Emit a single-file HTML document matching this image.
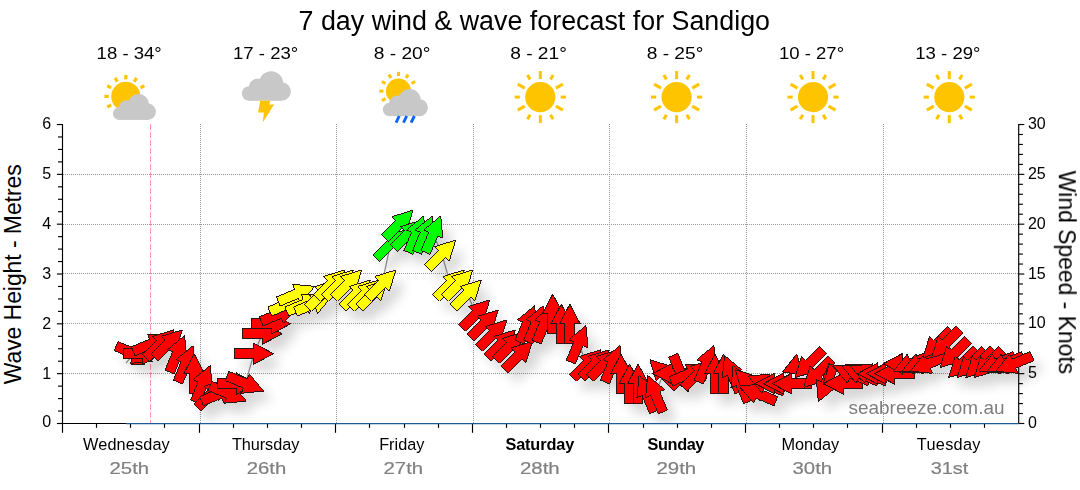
<!DOCTYPE html><html><head><meta charset="utf-8"><title>7 day wind &amp; wave forecast for Sandigo</title>
<style>html,body{margin:0;padding:0;background:#fff}body{width:1080px;height:490px;overflow:hidden;position:relative;font-family:"Liberation Sans",sans-serif}svg{position:absolute;left:0;top:0}text{font-family:"Liberation Sans",sans-serif}</style></head><body>
<svg width="1080" height="490" viewBox="0 0 1080 490">
<defs>
<filter id="sh" x="-5%" y="-20%" width="110%" height="150%"><feGaussianBlur stdDeviation="5.8"/></filter><clipPath id="pc"><rect x="62.5" y="124" width="1000" height="299"/></clipPath>
<path id="ar" d="M-19.8,-4.9 L0,-4.9 L0,-10.4 L19.6,0 L0,10.4 L0,4.9 L-19.8,4.9 Z"/>
<g id="cloud"><circle cx="29.2" cy="12" r="12"/><circle cx="15.8" cy="16.3" r="9"/><circle cx="7.3" cy="22.3" r="7.3"/><circle cx="39.7" cy="20.3" r="9.3"/><rect x="7.3" y="18" width="32.4" height="11.6"/></g>
</defs>
<g stroke="#979797" stroke-width="1" stroke-dasharray="1 1" fill="none" shape-rendering="crispEdges"><line x1="62.5" y1="373.50" x2="1018.7" y2="373.50"/><line x1="62.5" y1="323.50" x2="1018.7" y2="323.50"/><line x1="62.5" y1="273.50" x2="1018.7" y2="273.50"/><line x1="62.5" y1="224.50" x2="1018.7" y2="224.50"/><line x1="62.5" y1="174.50" x2="1018.7" y2="174.50"/><line x1="200.50" y1="124.0" x2="200.50" y2="423.5"/><line x1="336.50" y1="124.0" x2="336.50" y2="423.5"/><line x1="473.50" y1="124.0" x2="473.50" y2="423.5"/><line x1="609.50" y1="124.0" x2="609.50" y2="423.5"/><line x1="746.50" y1="124.0" x2="746.50" y2="423.5"/><line x1="883.50" y1="124.0" x2="883.50" y2="423.5"/></g>
<line x1="150.5" y1="124.0" x2="150.5" y2="423.5" stroke="#ff9aa2" stroke-width="1" stroke-dasharray="6 2" shape-rendering="crispEdges"/>
<polyline fill="none" stroke="#8c8c8c" stroke-width="1.2" points="125.9,363.2 134.4,353.7 142.9,353.7 151.5,343.7 160.0,343.7 168.5,343.7 177.1,353.7 185.6,363.7 194.2,373.6 202.7,383.6 211.2,393.6 219.8,393.6 228.3,393.6 236.8,383.6 245.4,383.6 253.9,353.7 262.5,333.8 271.0,323.8 279.5,313.8 288.1,303.9 296.6,293.9 305.1,303.9 313.7,303.9 322.2,293.9 330.8,283.9 339.3,283.9 347.8,283.9 356.4,293.9 364.9,293.9 373.4,293.9 382.0,283.9 390.5,244.0 399.1,224.1 407.6,234.1 416.1,234.1 424.7,234.1 433.2,234.1 441.8,254.0 450.3,283.9 458.8,283.9 467.4,293.9 475.9,313.8 484.4,323.8 493.0,333.8 501.5,343.7 510.0,345.7 518.6,355.2 527.1,323.8 535.7,323.8 544.2,323.8 552.7,313.8 561.3,323.8 569.8,323.8 578.4,343.7 586.9,363.7 595.4,363.7 604.0,363.7 612.5,363.7 621.0,373.6 629.6,383.6 638.1,383.6 646.6,393.6 655.2,393.6 663.7,373.6 672.3,373.6 680.8,373.6 689.3,373.6 697.9,373.6 706.4,363.7 715.0,373.6 723.5,373.6 732.0,373.6 740.6,383.6 749.1,383.6 757.6,393.6 766.2,383.6 774.7,383.6 783.2,383.6 791.8,383.6 808.9,363.7 817.4,373.6 825.9,383.6 843.0,383.6 851.5,373.6 860.1,373.6 868.6,373.6 877.2,373.6 885.7,373.6 894.2,373.6 902.8,363.7 911.3,363.7 919.9,363.7 928.4,363.7 936.9,343.7 945.5,343.7 954.0,353.7 962.5,363.7 971.1,363.7 979.6,363.7 988.1,363.7 996.7,363.7 1005.2,363.7 1013.8,363.7"/>
<g stroke="#000" stroke-width="1.15" fill="none"><line x1="62.5" y1="124.0" x2="62.5" y2="424.0"/><line x1="1018.7" y1="124.0" x2="1018.7" y2="424.0"/><line x1="62.5" y1="423.5" x2="127" y2="423.5"/><line x1="56.9" y1="423.50" x2="62.5" y2="423.50"/><line x1="58.0" y1="411.04" x2="62.5" y2="411.04"/><line x1="58.0" y1="398.58" x2="62.5" y2="398.58"/><line x1="58.0" y1="386.13" x2="62.5" y2="386.13"/><line x1="56.9" y1="373.67" x2="62.5" y2="373.67"/><line x1="58.0" y1="361.21" x2="62.5" y2="361.21"/><line x1="58.0" y1="348.75" x2="62.5" y2="348.75"/><line x1="58.0" y1="336.30" x2="62.5" y2="336.30"/><line x1="56.9" y1="323.84" x2="62.5" y2="323.84"/><line x1="58.0" y1="311.38" x2="62.5" y2="311.38"/><line x1="58.0" y1="298.93" x2="62.5" y2="298.93"/><line x1="58.0" y1="286.47" x2="62.5" y2="286.47"/><line x1="56.9" y1="274.01" x2="62.5" y2="274.01"/><line x1="58.0" y1="261.55" x2="62.5" y2="261.55"/><line x1="58.0" y1="249.09" x2="62.5" y2="249.09"/><line x1="58.0" y1="236.64" x2="62.5" y2="236.64"/><line x1="56.9" y1="224.18" x2="62.5" y2="224.18"/><line x1="58.0" y1="211.72" x2="62.5" y2="211.72"/><line x1="58.0" y1="199.27" x2="62.5" y2="199.27"/><line x1="58.0" y1="186.81" x2="62.5" y2="186.81"/><line x1="56.9" y1="174.35" x2="62.5" y2="174.35"/><line x1="58.0" y1="161.89" x2="62.5" y2="161.89"/><line x1="58.0" y1="149.44" x2="62.5" y2="149.44"/><line x1="58.0" y1="136.98" x2="62.5" y2="136.98"/><line x1="56.9" y1="124.52" x2="62.5" y2="124.52"/><line x1="1018.7" y1="423.50" x2="1024.3" y2="423.50"/><line x1="1018.7" y1="413.53" x2="1022.9000000000001" y2="413.53"/><line x1="1018.7" y1="403.57" x2="1022.9000000000001" y2="403.57"/><line x1="1018.7" y1="393.60" x2="1022.9000000000001" y2="393.60"/><line x1="1018.7" y1="383.64" x2="1022.9000000000001" y2="383.64"/><line x1="1018.7" y1="373.67" x2="1024.3" y2="373.67"/><line x1="1018.7" y1="363.70" x2="1022.9000000000001" y2="363.70"/><line x1="1018.7" y1="353.74" x2="1022.9000000000001" y2="353.74"/><line x1="1018.7" y1="343.77" x2="1022.9000000000001" y2="343.77"/><line x1="1018.7" y1="333.81" x2="1022.9000000000001" y2="333.81"/><line x1="1018.7" y1="323.84" x2="1024.3" y2="323.84"/><line x1="1018.7" y1="313.87" x2="1022.9000000000001" y2="313.87"/><line x1="1018.7" y1="303.91" x2="1022.9000000000001" y2="303.91"/><line x1="1018.7" y1="293.94" x2="1022.9000000000001" y2="293.94"/><line x1="1018.7" y1="283.98" x2="1022.9000000000001" y2="283.98"/><line x1="1018.7" y1="274.01" x2="1024.3" y2="274.01"/><line x1="1018.7" y1="264.04" x2="1022.9000000000001" y2="264.04"/><line x1="1018.7" y1="254.08" x2="1022.9000000000001" y2="254.08"/><line x1="1018.7" y1="244.11" x2="1022.9000000000001" y2="244.11"/><line x1="1018.7" y1="234.15" x2="1022.9000000000001" y2="234.15"/><line x1="1018.7" y1="224.18" x2="1024.3" y2="224.18"/><line x1="1018.7" y1="214.21" x2="1022.9000000000001" y2="214.21"/><line x1="1018.7" y1="204.25" x2="1022.9000000000001" y2="204.25"/><line x1="1018.7" y1="194.28" x2="1022.9000000000001" y2="194.28"/><line x1="1018.7" y1="184.32" x2="1022.9000000000001" y2="184.32"/><line x1="1018.7" y1="174.35" x2="1024.3" y2="174.35"/><line x1="1018.7" y1="164.38" x2="1022.9000000000001" y2="164.38"/><line x1="1018.7" y1="154.42" x2="1022.9000000000001" y2="154.42"/><line x1="1018.7" y1="144.45" x2="1022.9000000000001" y2="144.45"/><line x1="1018.7" y1="134.49" x2="1022.9000000000001" y2="134.49"/><line x1="1018.7" y1="124.52" x2="1024.3" y2="124.52"/><line x1="62.50" y1="423.5" x2="62.50" y2="432.8"/><line x1="96.50" y1="423.5" x2="96.50" y2="427.8"/><line x1="130.50" y1="423.5" x2="130.50" y2="427.8"/><line x1="164.50" y1="423.5" x2="164.50" y2="427.8"/><line x1="199.50" y1="423.5" x2="199.50" y2="432.8"/><line x1="233.50" y1="423.5" x2="233.50" y2="427.8"/><line x1="267.50" y1="423.5" x2="267.50" y2="427.8"/><line x1="301.50" y1="423.5" x2="301.50" y2="427.8"/><line x1="335.50" y1="423.5" x2="335.50" y2="432.8"/><line x1="369.50" y1="423.5" x2="369.50" y2="427.8"/><line x1="404.50" y1="423.5" x2="404.50" y2="427.8"/><line x1="438.50" y1="423.5" x2="438.50" y2="427.8"/><line x1="472.50" y1="423.5" x2="472.50" y2="432.8"/><line x1="506.50" y1="423.5" x2="506.50" y2="427.8"/><line x1="540.50" y1="423.5" x2="540.50" y2="427.8"/><line x1="574.50" y1="423.5" x2="574.50" y2="427.8"/><line x1="608.50" y1="423.5" x2="608.50" y2="432.8"/><line x1="643.50" y1="423.5" x2="643.50" y2="427.8"/><line x1="677.50" y1="423.5" x2="677.50" y2="427.8"/><line x1="711.50" y1="423.5" x2="711.50" y2="427.8"/><line x1="745.50" y1="423.5" x2="745.50" y2="432.8"/><line x1="779.50" y1="423.5" x2="779.50" y2="427.8"/><line x1="813.50" y1="423.5" x2="813.50" y2="427.8"/><line x1="847.50" y1="423.5" x2="847.50" y2="427.8"/><line x1="882.50" y1="423.5" x2="882.50" y2="432.8"/><line x1="916.50" y1="423.5" x2="916.50" y2="427.8"/><line x1="950.50" y1="423.5" x2="950.50" y2="427.8"/><line x1="984.50" y1="423.5" x2="984.50" y2="427.8"/></g>
<line x1="126" y1="423.6" x2="1018.7" y2="423.6" stroke="#1e5b96" stroke-width="1.25"/>
<g clip-path="url(#pc)"><g filter="url(#sh)" opacity="0.165" fill="#000" transform="translate(8.5,10)">
<polygon points="132,358.7 144,358.7 144,364 131.2,364"/>
<use href="#ar" transform="translate(134.4,353.7) rotate(22.5)"/>
<use href="#ar" transform="translate(142.9,353.7) rotate(-0.0)"/>
<use href="#ar" transform="translate(151.5,343.7) rotate(-22.5)"/>
<use href="#ar" transform="translate(160.0,343.7) rotate(-45.0)"/>
<use href="#ar" transform="translate(168.5,343.7) rotate(-45.0)"/>
<use href="#ar" transform="translate(177.1,353.7) rotate(-67.5)"/>
<use href="#ar" transform="translate(185.6,363.7) rotate(-67.5)"/>
<use href="#ar" transform="translate(194.2,373.6) rotate(-90.0)"/>
<use href="#ar" transform="translate(202.7,383.6) rotate(-67.5)"/>
<use href="#ar" transform="translate(211.2,393.6) rotate(-45.0)"/>
<use href="#ar" transform="translate(219.8,393.6) rotate(-22.5)"/>
<use href="#ar" transform="translate(228.3,393.6) rotate(22.5)"/>
<use href="#ar" transform="translate(236.8,383.6) rotate(-0.0)"/>
<use href="#ar" transform="translate(245.4,383.6) rotate(22.5)"/>
<use href="#ar" transform="translate(253.9,353.7) rotate(-0.0)"/>
<use href="#ar" transform="translate(262.5,333.8) rotate(-0.0)"/>
<use href="#ar" transform="translate(271.0,323.8) rotate(-0.0)"/>
<use href="#ar" transform="translate(279.5,313.8) rotate(-22.5)"/>
<use href="#ar" transform="translate(288.1,303.9) rotate(-22.5)"/>
<use href="#ar" transform="translate(296.6,293.9) rotate(-22.5)"/>
<use href="#ar" transform="translate(305.1,303.9) rotate(-22.5)"/>
<use href="#ar" transform="translate(313.7,303.9) rotate(-22.5)"/>
<use href="#ar" transform="translate(322.2,293.9) rotate(-45.0)"/>
<use href="#ar" transform="translate(330.8,283.9) rotate(-45.0)"/>
<use href="#ar" transform="translate(339.3,283.9) rotate(-45.0)"/>
<use href="#ar" transform="translate(347.8,283.9) rotate(-45.0)"/>
<use href="#ar" transform="translate(356.4,293.9) rotate(-45.0)"/>
<use href="#ar" transform="translate(364.9,293.9) rotate(-45.0)"/>
<use href="#ar" transform="translate(373.4,293.9) rotate(-45.0)"/>
<use href="#ar" transform="translate(382.0,283.9) rotate(-45.0)"/>
<use href="#ar" transform="translate(390.5,244.0) rotate(-45.0)"/>
<use href="#ar" transform="translate(399.1,224.1) rotate(-45.0)"/>
<use href="#ar" transform="translate(407.6,234.1) rotate(-45.0)"/>
<use href="#ar" transform="translate(416.1,234.1) rotate(-67.5)"/>
<use href="#ar" transform="translate(424.7,234.1) rotate(-67.5)"/>
<use href="#ar" transform="translate(433.2,234.1) rotate(-67.5)"/>
<use href="#ar" transform="translate(441.8,254.0) rotate(-45.0)"/>
<use href="#ar" transform="translate(450.3,283.9) rotate(-45.0)"/>
<use href="#ar" transform="translate(458.8,283.9) rotate(-45.0)"/>
<use href="#ar" transform="translate(467.4,293.9) rotate(-45.0)"/>
<use href="#ar" transform="translate(475.9,313.8) rotate(-45.0)"/>
<use href="#ar" transform="translate(484.4,323.8) rotate(-45.0)"/>
<use href="#ar" transform="translate(493.0,333.8) rotate(-45.0)"/>
<use href="#ar" transform="translate(501.5,343.7) rotate(-45.0)"/>
<use href="#ar" transform="translate(510.0,345.7) rotate(-45.0)"/>
<use href="#ar" transform="translate(518.6,355.2) rotate(-45.0)"/>
<use href="#ar" transform="translate(527.1,323.8) rotate(-67.5)"/>
<use href="#ar" transform="translate(535.7,323.8) rotate(-67.5)"/>
<use href="#ar" transform="translate(544.2,323.8) rotate(-67.5)"/>
<use href="#ar" transform="translate(552.7,313.8) rotate(-90.0)"/>
<use href="#ar" transform="translate(561.3,323.8) rotate(-90.0)"/>
<use href="#ar" transform="translate(569.8,323.8) rotate(-90.0)"/>
<use href="#ar" transform="translate(578.4,343.7) rotate(-67.5)"/>
<use href="#ar" transform="translate(586.9,363.7) rotate(-45.0)"/>
<use href="#ar" transform="translate(595.4,363.7) rotate(-45.0)"/>
<use href="#ar" transform="translate(604.0,363.7) rotate(-45.0)"/>
<use href="#ar" transform="translate(612.5,363.7) rotate(-67.5)"/>
<use href="#ar" transform="translate(621.0,373.6) rotate(-90.0)"/>
<use href="#ar" transform="translate(629.6,383.6) rotate(-90.0)"/>
<use href="#ar" transform="translate(638.1,383.6) rotate(-90.0)"/>
<use href="#ar" transform="translate(646.6,393.6) rotate(-112.5)"/>
<use href="#ar" transform="translate(655.2,393.6) rotate(-112.5)"/>
<use href="#ar" transform="translate(663.7,373.6) rotate(-135.0)"/>
<use href="#ar" transform="translate(672.3,373.6) rotate(-180.0)"/>
<use href="#ar" transform="translate(680.8,373.6) rotate(67.5)"/>
<use href="#ar" transform="translate(689.3,373.6) rotate(-22.5)"/>
<use href="#ar" transform="translate(697.9,373.6) rotate(-45.0)"/>
<use href="#ar" transform="translate(706.4,363.7) rotate(-67.5)"/>
<use href="#ar" transform="translate(715.0,373.6) rotate(-90.0)"/>
<use href="#ar" transform="translate(723.5,373.6) rotate(-90.0)"/>
<use href="#ar" transform="translate(732.0,373.6) rotate(-112.5)"/>
<use href="#ar" transform="translate(740.6,383.6) rotate(-112.5)"/>
<use href="#ar" transform="translate(749.1,383.6) rotate(-135.0)"/>
<use href="#ar" transform="translate(757.6,393.6) rotate(-157.5)"/>
<use href="#ar" transform="translate(766.2,383.6) rotate(-157.5)"/>
<use href="#ar" transform="translate(774.7,383.6) rotate(-180.0)"/>
<use href="#ar" transform="translate(783.2,383.6) rotate(-180.0)"/>
<use href="#ar" transform="translate(791.8,383.6) rotate(-180.0)"/>
<polygon points="782.6,371.7 796.8,354.1 803.2,375.6"/>
<use href="#ar" transform="translate(808.9,363.7) rotate(-225.0)"/>
<use href="#ar" transform="translate(817.4,373.6) rotate(-225.0)"/>
<use href="#ar" transform="translate(825.9,383.6) rotate(-247.5)"/>
<polygon points="829.5,363.4 836.5,369.9 834.4,377.6 823,384.5"/>
<use href="#ar" transform="translate(843.0,383.6) rotate(-180.0)"/>
<use href="#ar" transform="translate(851.5,373.6) rotate(-157.5)"/>
<use href="#ar" transform="translate(860.1,373.6) rotate(-157.5)"/>
<use href="#ar" transform="translate(868.6,373.6) rotate(-157.5)"/>
<use href="#ar" transform="translate(877.2,373.6) rotate(-180.0)"/>
<use href="#ar" transform="translate(885.7,373.6) rotate(-180.0)"/>
<use href="#ar" transform="translate(894.2,373.6) rotate(-180.0)"/>
<use href="#ar" transform="translate(902.8,363.7) rotate(-180.0)"/>
<use href="#ar" transform="translate(911.3,363.7) rotate(-202.5)"/>
<use href="#ar" transform="translate(919.9,363.7) rotate(-202.5)"/>
<use href="#ar" transform="translate(928.4,363.7) rotate(-202.5)"/>
<use href="#ar" transform="translate(936.9,343.7) rotate(-225.0)"/>
<use href="#ar" transform="translate(945.5,343.7) rotate(-225.0)"/>
<use href="#ar" transform="translate(954.0,353.7) rotate(-225.0)"/>
<use href="#ar" transform="translate(962.5,363.7) rotate(-225.0)"/>
<use href="#ar" transform="translate(971.1,363.7) rotate(-225.0)"/>
<use href="#ar" transform="translate(979.6,363.7) rotate(-225.0)"/>
<use href="#ar" transform="translate(988.1,363.7) rotate(-225.0)"/>
<use href="#ar" transform="translate(996.7,363.7) rotate(-202.5)"/>
<use href="#ar" transform="translate(1005.2,363.7) rotate(-202.5)"/>
<use href="#ar" transform="translate(1013.8,363.7) rotate(-202.5)"/>
</g></g>
<g stroke="#2a1414" stroke-width="1" stroke-linejoin="miter" stroke-miterlimit="2" shape-rendering="crispEdges">
<polygon fill="#ff0000" points="132,358.7 144,358.7 144,364 131.2,364"/>
<use href="#ar" fill="#ff0000" transform="translate(134.4,353.7) rotate(22.5)"/>
<use href="#ar" fill="#ff0000" transform="translate(142.9,353.7) rotate(-0.0)"/>
<use href="#ar" fill="#ff0000" transform="translate(151.5,343.7) rotate(-22.5)"/>
<use href="#ar" fill="#ff0000" transform="translate(160.0,343.7) rotate(-45.0)"/>
<use href="#ar" fill="#ff0000" transform="translate(168.5,343.7) rotate(-45.0)"/>
<use href="#ar" fill="#ff0000" transform="translate(177.1,353.7) rotate(-67.5)"/>
<use href="#ar" fill="#ff0000" transform="translate(185.6,363.7) rotate(-67.5)"/>
<use href="#ar" fill="#ff0000" transform="translate(194.2,373.6) rotate(-90.0)"/>
<use href="#ar" fill="#ff0000" transform="translate(202.7,383.6) rotate(-67.5)"/>
<use href="#ar" fill="#ff0000" transform="translate(211.2,393.6) rotate(-45.0)"/>
<use href="#ar" fill="#ff0000" transform="translate(219.8,393.6) rotate(-22.5)"/>
<use href="#ar" fill="#ff0000" transform="translate(228.3,393.6) rotate(22.5)"/>
<use href="#ar" fill="#ff0000" transform="translate(236.8,383.6) rotate(-0.0)"/>
<use href="#ar" fill="#ff0000" transform="translate(245.4,383.6) rotate(22.5)"/>
<use href="#ar" fill="#ff0000" transform="translate(253.9,353.7) rotate(-0.0)"/>
<use href="#ar" fill="#ff0000" transform="translate(262.5,333.8) rotate(-0.0)"/>
<use href="#ar" fill="#ff0000" transform="translate(271.0,323.8) rotate(-0.0)"/>
<use href="#ar" fill="#ff0000" transform="translate(279.5,313.8) rotate(-22.5)"/>
<use href="#ar" fill="#ffff00" transform="translate(288.1,303.9) rotate(-22.5)"/>
<use href="#ar" fill="#ffff00" transform="translate(296.6,293.9) rotate(-22.5)"/>
<use href="#ar" fill="#ffff00" transform="translate(305.1,303.9) rotate(-22.5)"/>
<use href="#ar" fill="#ffff00" transform="translate(313.7,303.9) rotate(-22.5)"/>
<use href="#ar" fill="#ffff00" transform="translate(322.2,293.9) rotate(-45.0)"/>
<use href="#ar" fill="#ffff00" transform="translate(330.8,283.9) rotate(-45.0)"/>
<use href="#ar" fill="#ffff00" transform="translate(339.3,283.9) rotate(-45.0)"/>
<use href="#ar" fill="#ffff00" transform="translate(347.8,283.9) rotate(-45.0)"/>
<use href="#ar" fill="#ffff00" transform="translate(356.4,293.9) rotate(-45.0)"/>
<use href="#ar" fill="#ffff00" transform="translate(364.9,293.9) rotate(-45.0)"/>
<use href="#ar" fill="#ffff00" transform="translate(373.4,293.9) rotate(-45.0)"/>
<use href="#ar" fill="#ffff00" transform="translate(382.0,283.9) rotate(-45.0)"/>
<use href="#ar" fill="#00ff00" transform="translate(390.5,244.0) rotate(-45.0)"/>
<use href="#ar" fill="#00ff00" transform="translate(399.1,224.1) rotate(-45.0)"/>
<use href="#ar" fill="#00ff00" transform="translate(407.6,234.1) rotate(-45.0)"/>
<use href="#ar" fill="#00ff00" transform="translate(416.1,234.1) rotate(-67.5)"/>
<use href="#ar" fill="#00ff00" transform="translate(424.7,234.1) rotate(-67.5)"/>
<use href="#ar" fill="#00ff00" transform="translate(433.2,234.1) rotate(-67.5)"/>
<use href="#ar" fill="#ffff00" transform="translate(441.8,254.0) rotate(-45.0)"/>
<use href="#ar" fill="#ffff00" transform="translate(450.3,283.9) rotate(-45.0)"/>
<use href="#ar" fill="#ffff00" transform="translate(458.8,283.9) rotate(-45.0)"/>
<use href="#ar" fill="#ffff00" transform="translate(467.4,293.9) rotate(-45.0)"/>
<use href="#ar" fill="#ff0000" transform="translate(475.9,313.8) rotate(-45.0)"/>
<use href="#ar" fill="#ff0000" transform="translate(484.4,323.8) rotate(-45.0)"/>
<use href="#ar" fill="#ff0000" transform="translate(493.0,333.8) rotate(-45.0)"/>
<use href="#ar" fill="#ff0000" transform="translate(501.5,343.7) rotate(-45.0)"/>
<use href="#ar" fill="#ff0000" transform="translate(510.0,345.7) rotate(-45.0)"/>
<use href="#ar" fill="#ff0000" transform="translate(518.6,355.2) rotate(-45.0)"/>
<use href="#ar" fill="#ff0000" transform="translate(527.1,323.8) rotate(-67.5)"/>
<use href="#ar" fill="#ff0000" transform="translate(535.7,323.8) rotate(-67.5)"/>
<use href="#ar" fill="#ff0000" transform="translate(544.2,323.8) rotate(-67.5)"/>
<use href="#ar" fill="#ff0000" transform="translate(552.7,313.8) rotate(-90.0)"/>
<use href="#ar" fill="#ff0000" transform="translate(561.3,323.8) rotate(-90.0)"/>
<use href="#ar" fill="#ff0000" transform="translate(569.8,323.8) rotate(-90.0)"/>
<use href="#ar" fill="#ff0000" transform="translate(578.4,343.7) rotate(-67.5)"/>
<use href="#ar" fill="#ff0000" transform="translate(586.9,363.7) rotate(-45.0)"/>
<use href="#ar" fill="#ff0000" transform="translate(595.4,363.7) rotate(-45.0)"/>
<use href="#ar" fill="#ff0000" transform="translate(604.0,363.7) rotate(-45.0)"/>
<use href="#ar" fill="#ff0000" transform="translate(612.5,363.7) rotate(-67.5)"/>
<use href="#ar" fill="#ff0000" transform="translate(621.0,373.6) rotate(-90.0)"/>
<use href="#ar" fill="#ff0000" transform="translate(629.6,383.6) rotate(-90.0)"/>
<use href="#ar" fill="#ff0000" transform="translate(638.1,383.6) rotate(-90.0)"/>
<use href="#ar" fill="#ff0000" transform="translate(646.6,393.6) rotate(-112.5)"/>
<use href="#ar" fill="#ff0000" transform="translate(655.2,393.6) rotate(-112.5)"/>
<use href="#ar" fill="#ff0000" transform="translate(663.7,373.6) rotate(-135.0)"/>
<use href="#ar" fill="#ff0000" transform="translate(672.3,373.6) rotate(-180.0)"/>
<use href="#ar" fill="#ff0000" transform="translate(680.8,373.6) rotate(67.5)"/>
<use href="#ar" fill="#ff0000" transform="translate(689.3,373.6) rotate(-22.5)"/>
<use href="#ar" fill="#ff0000" transform="translate(697.9,373.6) rotate(-45.0)"/>
<use href="#ar" fill="#ff0000" transform="translate(706.4,363.7) rotate(-67.5)"/>
<use href="#ar" fill="#ff0000" transform="translate(715.0,373.6) rotate(-90.0)"/>
<use href="#ar" fill="#ff0000" transform="translate(723.5,373.6) rotate(-90.0)"/>
<use href="#ar" fill="#ff0000" transform="translate(732.0,373.6) rotate(-112.5)"/>
<use href="#ar" fill="#ff0000" transform="translate(740.6,383.6) rotate(-112.5)"/>
<use href="#ar" fill="#ff0000" transform="translate(749.1,383.6) rotate(-135.0)"/>
<use href="#ar" fill="#ff0000" transform="translate(757.6,393.6) rotate(-157.5)"/>
<use href="#ar" fill="#ff0000" transform="translate(766.2,383.6) rotate(-157.5)"/>
<use href="#ar" fill="#ff0000" transform="translate(774.7,383.6) rotate(-180.0)"/>
<use href="#ar" fill="#ff0000" transform="translate(783.2,383.6) rotate(-180.0)"/>
<use href="#ar" fill="#ff0000" transform="translate(791.8,383.6) rotate(-180.0)"/>
<polygon fill="#ff0000" points="782.6,371.7 796.8,354.1 803.2,375.6"/>
<use href="#ar" fill="#ff0000" transform="translate(808.9,363.7) rotate(-225.0)"/>
<use href="#ar" fill="#ff0000" transform="translate(817.4,373.6) rotate(-225.0)"/>
<use href="#ar" fill="#ff0000" transform="translate(825.9,383.6) rotate(-247.5)"/>
<polygon fill="#ff0000" points="829.5,363.4 836.5,369.9 834.4,377.6 823,384.5"/>
<use href="#ar" fill="#ff0000" transform="translate(843.0,383.6) rotate(-180.0)"/>
<use href="#ar" fill="#ff0000" transform="translate(851.5,373.6) rotate(-157.5)"/>
<use href="#ar" fill="#ff0000" transform="translate(860.1,373.6) rotate(-157.5)"/>
<use href="#ar" fill="#ff0000" transform="translate(868.6,373.6) rotate(-157.5)"/>
<use href="#ar" fill="#ff0000" transform="translate(877.2,373.6) rotate(-180.0)"/>
<use href="#ar" fill="#ff0000" transform="translate(885.7,373.6) rotate(-180.0)"/>
<use href="#ar" fill="#ff0000" transform="translate(894.2,373.6) rotate(-180.0)"/>
<use href="#ar" fill="#ff0000" transform="translate(902.8,363.7) rotate(-180.0)"/>
<use href="#ar" fill="#ff0000" transform="translate(911.3,363.7) rotate(-202.5)"/>
<use href="#ar" fill="#ff0000" transform="translate(919.9,363.7) rotate(-202.5)"/>
<use href="#ar" fill="#ff0000" transform="translate(928.4,363.7) rotate(-202.5)"/>
<use href="#ar" fill="#ff0000" transform="translate(936.9,343.7) rotate(-225.0)"/>
<use href="#ar" fill="#ff0000" transform="translate(945.5,343.7) rotate(-225.0)"/>
<use href="#ar" fill="#ff0000" transform="translate(954.0,353.7) rotate(-225.0)"/>
<use href="#ar" fill="#ff0000" transform="translate(962.5,363.7) rotate(-225.0)"/>
<use href="#ar" fill="#ff0000" transform="translate(971.1,363.7) rotate(-225.0)"/>
<use href="#ar" fill="#ff0000" transform="translate(979.6,363.7) rotate(-225.0)"/>
<use href="#ar" fill="#ff0000" transform="translate(988.1,363.7) rotate(-225.0)"/>
<use href="#ar" fill="#ff0000" transform="translate(996.7,363.7) rotate(-202.5)"/>
<use href="#ar" fill="#ff0000" transform="translate(1005.2,363.7) rotate(-202.5)"/>
<use href="#ar" fill="#ff0000" transform="translate(1013.8,363.7) rotate(-202.5)"/>
</g>
<text x="51.2" y="427.2" font-size="16" text-anchor="end" fill="#000">0</text>
<text x="51.2" y="378.6" font-size="16" text-anchor="end" fill="#000">1</text>
<text x="51.2" y="328.7" font-size="16" text-anchor="end" fill="#000">2</text>
<text x="51.2" y="278.9" font-size="16" text-anchor="end" fill="#000">3</text>
<text x="51.2" y="229.1" font-size="16" text-anchor="end" fill="#000">4</text>
<text x="51.2" y="179.3" font-size="16" text-anchor="end" fill="#000">5</text>
<text x="51.2" y="129.4" font-size="16" text-anchor="end" fill="#000">6</text>
<text x="1027.9" y="427.6" font-size="16" fill="#000">0</text>
<text x="1027.9" y="378.2" font-size="16" fill="#000">5</text>
<text x="1027.9" y="328.3" font-size="16" fill="#000">10</text>
<text x="1027.9" y="278.5" font-size="16" fill="#000">15</text>
<text x="1027.9" y="228.7" font-size="16" fill="#000">20</text>
<text x="1027.9" y="178.9" font-size="16" fill="#000">25</text>
<text x="1027.9" y="129.0" font-size="16" fill="#000">30</text>
<text x="126.4" y="450" font-size="16.3" text-anchor="middle" fill="#000" textLength="86.7" lengthAdjust="spacing">Wednesday</text>
<text x="129.3" y="474" font-size="17.2" text-anchor="middle" fill="#808080" stroke="#808080" stroke-width="0.2" textLength="39.6" lengthAdjust="spacingAndGlyphs">25th</text>
<text x="265.6" y="450" font-size="16.3" text-anchor="middle" fill="#000" textLength="67.4" lengthAdjust="spacing">Thursday</text>
<text x="266.5" y="474" font-size="17.2" text-anchor="middle" fill="#808080" stroke="#808080" stroke-width="0.2" textLength="39.6" lengthAdjust="spacingAndGlyphs">26th</text>
<text x="401.8" y="450" font-size="16.3" text-anchor="middle" fill="#000" textLength="45.3" lengthAdjust="spacing">Friday</text>
<text x="403.3" y="474" font-size="17.2" text-anchor="middle" fill="#808080" stroke="#808080" stroke-width="0.2" textLength="39.6" lengthAdjust="spacingAndGlyphs">27th</text>
<text x="539.8" y="450" font-size="16.3" text-anchor="middle" font-weight="bold" fill="#000" textLength="68.8" lengthAdjust="spacing">Saturday</text>
<text x="539.8" y="474" font-size="17.2" text-anchor="middle" fill="#808080" stroke="#808080" stroke-width="0.2" textLength="39.8" lengthAdjust="spacingAndGlyphs">28th</text>
<text x="676.0" y="450" font-size="16.3" text-anchor="middle" font-weight="bold" fill="#000" textLength="56.8" lengthAdjust="spacing">Sunday</text>
<text x="676.3" y="474" font-size="17.2" text-anchor="middle" fill="#808080" stroke="#808080" stroke-width="0.2" textLength="39.8" lengthAdjust="spacingAndGlyphs">29th</text>
<text x="810.4" y="450" font-size="16.3" text-anchor="middle" fill="#000" textLength="57.7" lengthAdjust="spacing">Monday</text>
<text x="812.3" y="474" font-size="17.2" text-anchor="middle" fill="#808080" stroke="#808080" stroke-width="0.2" textLength="39.6" lengthAdjust="spacingAndGlyphs">30th</text>
<text x="948.6" y="450" font-size="16.3" text-anchor="middle" fill="#000" textLength="63.5" lengthAdjust="spacing">Tuesday</text>
<text x="949.5" y="474" font-size="17.2" text-anchor="middle" fill="#808080" stroke="#808080" stroke-width="0.2" textLength="37.6" lengthAdjust="spacingAndGlyphs">31st</text>
<text x="129.2" y="58.6" font-size="16.8" text-anchor="middle" fill="#000" textLength="65.2" lengthAdjust="spacingAndGlyphs">18 - 34°</text>
<text x="265.6" y="58.6" font-size="16.8" text-anchor="middle" fill="#000" textLength="65.2" lengthAdjust="spacingAndGlyphs">17 - 23°</text>
<text x="402.1" y="58.6" font-size="16.8" text-anchor="middle" fill="#000" textLength="56.7" lengthAdjust="spacingAndGlyphs">8 - 20°</text>
<text x="538.5" y="58.6" font-size="16.8" text-anchor="middle" fill="#000" textLength="56.7" lengthAdjust="spacingAndGlyphs">8 - 21°</text>
<text x="675.0" y="58.6" font-size="16.8" text-anchor="middle" fill="#000" textLength="56.7" lengthAdjust="spacingAndGlyphs">8 - 25°</text>
<text x="811.5" y="58.6" font-size="16.8" text-anchor="middle" fill="#000" textLength="65.2" lengthAdjust="spacingAndGlyphs">10 - 27°</text>
<text x="947.9" y="58.6" font-size="16.8" text-anchor="middle" fill="#000" textLength="65.2" lengthAdjust="spacingAndGlyphs">13 - 29°</text>
<text x="534.3" y="29.5" font-size="27" text-anchor="middle" fill="#000" textLength="471.5" lengthAdjust="spacingAndGlyphs">7 day wind &amp; wave forecast for Sandigo</text>
<text transform="translate(21.4,274.3) rotate(-90)" font-size="23" text-anchor="middle" fill="#000" textLength="220" lengthAdjust="spacing">Wave Height - Metres</text>
<text transform="translate(1058.8,272.4) rotate(90)" font-size="23" text-anchor="middle" fill="#000" textLength="203.7" lengthAdjust="spacing">Wind Speed - Knots</text>
<text x="926.5" y="413.5" font-size="18.6" text-anchor="middle" fill="#7e7e7e" textLength="156" lengthAdjust="spacingAndGlyphs">seabreeze.com.au</text>
<circle cx="125.8" cy="96.4" r="14.6" fill="#ffc400"/><g stroke="#ffc400" stroke-width="3.2"><line x1="140.52" y1="87.90" x2="144.33" y2="85.70"/><line x1="134.30" y1="81.68" x2="136.50" y2="77.87"/><line x1="125.80" y1="79.40" x2="125.80" y2="75.00"/><line x1="117.30" y1="81.68" x2="115.10" y2="77.87"/><line x1="111.08" y1="87.90" x2="107.27" y2="85.70"/><line x1="108.80" y1="96.40" x2="104.40" y2="96.40"/><line x1="111.08" y1="104.90" x2="107.27" y2="107.10"/></g>
<use href="#cloud" fill="#c8c8c8" transform="translate(112.9,93.9) scale(0.878)"/>
<use href="#cloud" fill="#c8c8c8" transform="translate(241.9,71.2)"/>
<path d="M260.2,100.8 L270.4,100.8 L269.1,104.4 L274.2,104.4 L262.8,122.3 L263.8,112.5 L258.1,112.5 Z" fill="#ffc400"/>
<circle cx="398.5" cy="91.1" r="12.6" fill="#ffc400"/><g stroke="#ffc400" stroke-width="3"><line x1="411.58" y1="83.55" x2="415.13" y2="81.50"/><line x1="406.05" y1="78.02" x2="408.10" y2="74.47"/><line x1="398.50" y1="76.00" x2="398.50" y2="71.90"/><line x1="390.95" y1="78.02" x2="388.90" y2="74.47"/><line x1="385.42" y1="83.55" x2="381.87" y2="81.50"/><line x1="383.40" y1="91.10" x2="379.30" y2="91.10"/><line x1="385.42" y1="98.65" x2="381.87" y2="100.70"/></g>
<use href="#cloud" fill="#c8c8c8" transform="translate(382.8,88.9) scale(0.92)"/>
<g stroke="#0a64ff" stroke-width="2.9"><line x1="399.2" y1="116" x2="396.1" y2="122.7"/><line x1="406.7" y1="116" x2="403.5" y2="122.7"/><line x1="414.4" y1="116" x2="411.1" y2="122.7"/></g>
<circle cx="540.3" cy="97.1" r="15.1" fill="#ffc400"/><g stroke="#ffc400" stroke-width="3"><line x1="540.30" y1="79.10" x2="540.30" y2="71.10"/><line x1="555.89" y1="88.10" x2="562.82" y2="84.10"/><line x1="555.89" y1="106.10" x2="562.82" y2="110.10"/><line x1="540.30" y1="115.10" x2="540.30" y2="123.10"/><line x1="524.71" y1="106.10" x2="517.78" y2="110.10"/><line x1="524.71" y1="88.10" x2="517.78" y2="84.10"/></g><g stroke="#ffc400" stroke-width="3"><line x1="560.70" y1="97.10" x2="565.90" y2="97.10"/><line x1="550.50" y1="79.43" x2="553.10" y2="74.93"/><line x1="530.10" y1="79.43" x2="527.50" y2="74.93"/><line x1="519.90" y1="97.10" x2="514.70" y2="97.10"/><line x1="530.10" y1="114.77" x2="527.50" y2="119.27"/><line x1="550.50" y1="114.77" x2="553.10" y2="119.27"/></g>
<circle cx="676.6" cy="97.1" r="15.1" fill="#ffc400"/><g stroke="#ffc400" stroke-width="3"><line x1="676.60" y1="79.10" x2="676.60" y2="71.10"/><line x1="692.19" y1="88.10" x2="699.12" y2="84.10"/><line x1="692.19" y1="106.10" x2="699.12" y2="110.10"/><line x1="676.60" y1="115.10" x2="676.60" y2="123.10"/><line x1="661.01" y1="106.10" x2="654.08" y2="110.10"/><line x1="661.01" y1="88.10" x2="654.08" y2="84.10"/></g><g stroke="#ffc400" stroke-width="3"><line x1="697.00" y1="97.10" x2="702.20" y2="97.10"/><line x1="686.80" y1="79.43" x2="689.40" y2="74.93"/><line x1="666.40" y1="79.43" x2="663.80" y2="74.93"/><line x1="656.20" y1="97.10" x2="651.00" y2="97.10"/><line x1="666.40" y1="114.77" x2="663.80" y2="119.27"/><line x1="686.80" y1="114.77" x2="689.40" y2="119.27"/></g>
<circle cx="813.0" cy="97.1" r="15.1" fill="#ffc400"/><g stroke="#ffc400" stroke-width="3"><line x1="813.00" y1="79.10" x2="813.00" y2="71.10"/><line x1="828.59" y1="88.10" x2="835.52" y2="84.10"/><line x1="828.59" y1="106.10" x2="835.52" y2="110.10"/><line x1="813.00" y1="115.10" x2="813.00" y2="123.10"/><line x1="797.41" y1="106.10" x2="790.48" y2="110.10"/><line x1="797.41" y1="88.10" x2="790.48" y2="84.10"/></g><g stroke="#ffc400" stroke-width="3"><line x1="833.40" y1="97.10" x2="838.60" y2="97.10"/><line x1="823.20" y1="79.43" x2="825.80" y2="74.93"/><line x1="802.80" y1="79.43" x2="800.20" y2="74.93"/><line x1="792.60" y1="97.10" x2="787.40" y2="97.10"/><line x1="802.80" y1="114.77" x2="800.20" y2="119.27"/><line x1="823.20" y1="114.77" x2="825.80" y2="119.27"/></g>
<circle cx="949.3" cy="97.1" r="15.1" fill="#ffc400"/><g stroke="#ffc400" stroke-width="3"><line x1="949.30" y1="79.10" x2="949.30" y2="71.10"/><line x1="964.89" y1="88.10" x2="971.82" y2="84.10"/><line x1="964.89" y1="106.10" x2="971.82" y2="110.10"/><line x1="949.30" y1="115.10" x2="949.30" y2="123.10"/><line x1="933.71" y1="106.10" x2="926.78" y2="110.10"/><line x1="933.71" y1="88.10" x2="926.78" y2="84.10"/></g><g stroke="#ffc400" stroke-width="3"><line x1="969.70" y1="97.10" x2="974.90" y2="97.10"/><line x1="959.50" y1="79.43" x2="962.10" y2="74.93"/><line x1="939.10" y1="79.43" x2="936.50" y2="74.93"/><line x1="928.90" y1="97.10" x2="923.70" y2="97.10"/><line x1="939.10" y1="114.77" x2="936.50" y2="119.27"/><line x1="959.50" y1="114.77" x2="962.10" y2="119.27"/></g>
</svg></body></html>
